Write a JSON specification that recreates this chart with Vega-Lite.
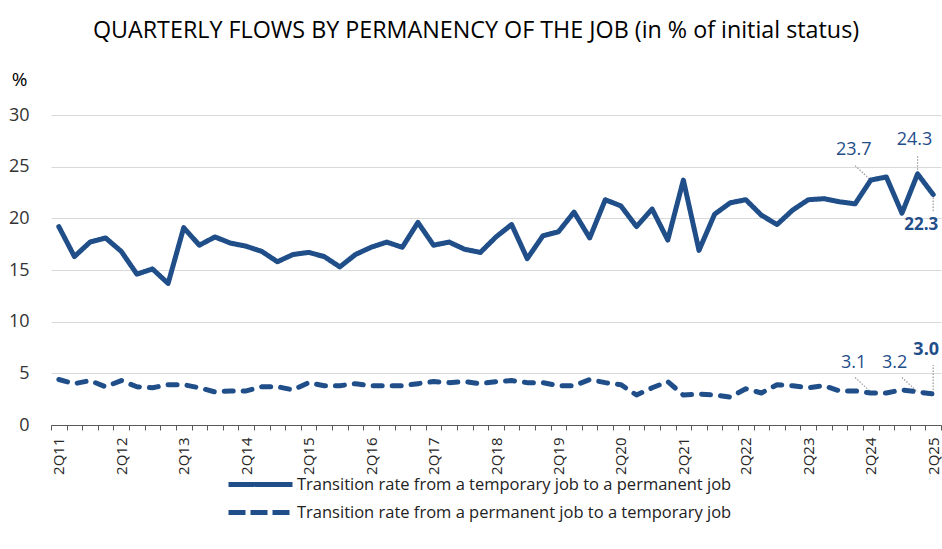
{
  "$schema": "https://vega.github.io/schema/vega-lite/v6.json",
  "width": 890,
  "height": 310,
  "autosize": {"type": "none"},
  "padding": {"left": 51, "top": 115, "right": 1, "bottom": 124},
  "background": "white",
  "config": {"font": "Open Sans", "view": {"stroke": null}},
  "title": {
    "text": "QUARTERLY FLOWS BY PERMANENCY OF THE JOB (in % of initial status)",
    "fontSize": 23.3, "fontWeight": "normal", "color": "#000000",
    "anchor": "middle", "frame": "group", "dx": -20, "offset": 27
  },
  "datasets": {
    "main": [
      {"q":"2Q11","tp":19.2,"pt":4.4},{"q":"3Q11","tp":16.3,"pt":4.0},{"q":"4Q11","tp":17.7,"pt":4.3},
      {"q":"1Q12","tp":18.1,"pt":3.7},{"q":"2Q12","tp":16.8,"pt":4.3},{"q":"3Q12","tp":14.6,"pt":3.7},{"q":"4Q12","tp":15.1,"pt":3.6},
      {"q":"1Q13","tp":13.7,"pt":3.9},{"q":"2Q13","tp":19.1,"pt":3.9},{"q":"3Q13","tp":17.4,"pt":3.6},{"q":"4Q13","tp":18.2,"pt":3.2},
      {"q":"1Q14","tp":17.6,"pt":3.3},{"q":"2Q14","tp":17.3,"pt":3.3},{"q":"3Q14","tp":16.8,"pt":3.7},{"q":"4Q14","tp":15.8,"pt":3.7},
      {"q":"1Q15","tp":16.5,"pt":3.4},{"q":"2Q15","tp":16.7,"pt":4.1},{"q":"3Q15","tp":16.3,"pt":3.8},{"q":"4Q15","tp":15.3,"pt":3.8},
      {"q":"1Q16","tp":16.5,"pt":4.0},{"q":"2Q16","tp":17.2,"pt":3.8},{"q":"3Q16","tp":17.7,"pt":3.8},{"q":"4Q16","tp":17.2,"pt":3.8},
      {"q":"1Q17","tp":19.6,"pt":4.0},{"q":"2Q17","tp":17.4,"pt":4.2},{"q":"3Q17","tp":17.7,"pt":4.1},{"q":"4Q17","tp":17.0,"pt":4.2},
      {"q":"1Q18","tp":16.7,"pt":4.0},{"q":"2Q18","tp":18.2,"pt":4.2},{"q":"3Q18","tp":19.4,"pt":4.3},{"q":"4Q18","tp":16.1,"pt":4.1},
      {"q":"1Q19","tp":18.3,"pt":4.1},{"q":"2Q19","tp":18.7,"pt":3.8},{"q":"3Q19","tp":20.6,"pt":3.8},{"q":"4Q19","tp":18.1,"pt":4.4},
      {"q":"1Q20","tp":21.8,"pt":4.1},{"q":"2Q20","tp":21.2,"pt":3.9},{"q":"3Q20","tp":19.2,"pt":2.9},{"q":"4Q20","tp":20.9,"pt":3.6},
      {"q":"1Q21","tp":17.9,"pt":4.2},{"q":"2Q21","tp":23.7,"pt":2.9},{"q":"3Q21","tp":16.9,"pt":3.0},{"q":"4Q21","tp":20.4,"pt":2.9},
      {"q":"1Q22","tp":21.5,"pt":2.7},{"q":"2Q22","tp":21.8,"pt":3.5},{"q":"3Q22","tp":20.3,"pt":3.1},{"q":"4Q22","tp":19.4,"pt":3.9},
      {"q":"1Q23","tp":20.8,"pt":3.8},{"q":"2Q23","tp":21.8,"pt":3.6},{"q":"3Q23","tp":21.9,"pt":3.8},{"q":"4Q23","tp":21.6,"pt":3.3},
      {"q":"1Q24","tp":21.4,"pt":3.3},{"q":"2Q24","tp":23.7,"pt":3.1},{"q":"3Q24","tp":24.0,"pt":3.1},{"q":"4Q24","tp":20.5,"pt":3.4},
      {"q":"1Q25","tp":24.3,"pt":3.2},{"q":"2Q25","tp":22.3,"pt":3.0}
    ],
    "leaders": [
      {"id":1,"q":"2Q24","v":23.7},{"id":1,"q":"1Q24","v":25.1},
      {"id":2,"q":"1Q25","v":24.4},{"id":2,"q":"1Q25","v":26.0},
      {"id":3,"q":"2Q25","v":22.3},{"id":3,"q":"2Q25","v":20.7},
      {"id":4,"q":"2Q24","v":3.2},{"id":4,"q":"1Q24","v":4.6},
      {"id":5,"q":"1Q25","v":3.2},{"id":5,"q":"4Q24","v":4.6},
      {"id":6,"q":"2Q25","v":3.1},{"id":6,"q":"2Q25","v":5.8}
    ]
  },
  "encoding": {
    "x": {
      "field": "q", "type": "ordinal", "bandPosition": 0.5,
      "scale": {"type": "band", "paddingInner": 0, "paddingOuter": 0,
        "domain": ["2Q11","3Q11","4Q11","1Q12","2Q12","3Q12","4Q12","1Q13","2Q13","3Q13","4Q13","1Q14","2Q14","3Q14","4Q14","1Q15","2Q15","3Q15","4Q15","1Q16","2Q16","3Q16","4Q16","1Q17","2Q17","3Q17","4Q17","1Q18","2Q18","3Q18","4Q18","1Q19","2Q19","3Q19","4Q19","1Q20","2Q20","3Q20","4Q20","1Q21","2Q21","3Q21","4Q21","1Q22","2Q22","3Q22","4Q22","1Q23","2Q23","3Q23","4Q23","1Q24","2Q24","3Q24","4Q24","1Q25","2Q25"]},
      "axis": {
        "title": null, "labelAngle": -90,
        "labelExpr": "substring(datum.label,0,2)=='2Q' ? datum.label : ''",
        "labelOverlap": false, "tickBand": "extent", "tickSize": 5,
        "tickColor": "#595959", "domainColor": "#595959", "labelColor": "#262626",
        "labelFontSize": 15, "labelPadding": 7, "grid": false
      }
    },
    "y": {
      "field": "v", "type": "quantitative",
      "scale": {"domain": [0, 30], "nice": false},
      "axis": {
        "title": "%", "titleAngle": 0, "titleX": -32, "titleY": -30,
        "titleAlign": "center", "titleBaseline": "alphabetic",
        "titleFontSize": 19, "titleFontWeight": "normal", "titleColor": "#000000",
        "values": [0, 5, 10, 15, 20, 25, 30], "ticks": false, "domain": false,
        "labelPadding": 22, "labelFontSize": 18, "labelColor": "#333333",
        "grid": true, "gridColor": "#d9d9d9", "gridWidth": 1
      }
    }
  },
  "layer": [
    {
      "data": {"name": "leaders"},
      "mark": {"type": "line", "color": "#9a9a9a", "strokeWidth": 1.2, "strokeDash": [1.5, 1.5]},
      "encoding": {"detail": {"field": "id"}}
    },
    {
      "data": {"name": "main"},
      "transform": [{"fold": ["tp", "pt"], "as": ["series", "v"]}, {"filter": "datum.series == 'tp'"}],
      "mark": {"type": "line", "color": "#1f4e89", "strokeWidth": 5, "strokeJoin": "round", "strokeCap": "round"},
      "encoding": {
        "strokeDash": {
          "field": "series", "type": "nominal",
          "scale": {"domain": ["tp"], "range": [[1, 0]]},
          "legend": {
            "title": null, "orient": "none", "legendX": 175, "legendY": 335,
            "labelExpr": "'Transition rate from a temporary job to a permanent job'",
            "symbolType": "stroke", "symbolSize": 4096, "symbolStrokeWidth": 5,
            "symbolStrokeColor": "#1f4e89", "labelFontSize": 16.5, "labelColor": "#222222",
            "labelOffset": 2, "labelLimit": 700
          }
        }
      }
    },
    {
      "data": {"name": "main"},
      "transform": [{"fold": ["tp", "pt"], "as": ["series", "v"]}, {"filter": "datum.series == 'pt'"}],
      "mark": {"type": "line", "strokeWidth": 5, "strokeJoin": "round", "strokeCap": "round", "strokeDash": [9, 10]},
      "encoding": {
        "color": {
          "field": "series", "type": "nominal",
          "scale": {"domain": ["pt"], "range": ["#1f4e89"]},
          "legend": {
            "title": null, "orient": "none", "legendX": 175, "legendY": 363,
            "labelExpr": "'Transition rate from a permanent job to a temporary job'",
            "symbolType": "stroke", "symbolSize": 4096, "symbolStrokeWidth": 5,
            "symbolDash": [17, 5], "labelFontSize": 16.5, "labelColor": "#222222",
            "labelOffset": 2, "labelLimit": 700
          }
        }
      }
    },
    {
      "data": {"values": [{"q": "2Q24", "v": 23.7}, {"q": "2Q24", "v": 3.1}]},
      "mark": {"type": "text", "fontSize": 18, "color": "#1f4e89", "dx": -17, "dy": -30},
      "encoding": {"text": {"field": "v", "format": ".1f"}}
    },
    {
      "data": {"values": [{"q": "1Q25", "v": 24.3}]},
      "mark": {"type": "text", "fontSize": 18, "color": "#1f4e89", "dx": -3, "dy": -34},
      "encoding": {"text": {"field": "v", "format": ".1f"}}
    },
    {
      "data": {"values": [{"q": "1Q25", "v": 3.2}]},
      "mark": {"type": "text", "fontSize": 18, "color": "#1f4e89", "dx": -23, "dy": -29},
      "encoding": {"text": {"field": "v", "format": ".1f"}}
    },
    {
      "data": {"values": [{"q": "2Q25", "v": 22.3}]},
      "mark": {"type": "text", "fontSize": 17, "fontWeight": "bold", "color": "#1f4e89", "dx": -12, "dy": 30},
      "encoding": {"text": {"field": "v", "format": ".1f"}}
    },
    {
      "data": {"values": [{"q": "2Q25", "v": 3.0}]},
      "mark": {"type": "text", "fontSize": 18, "fontWeight": "bold", "color": "#1f4e89", "dx": -7, "dy": -44},
      "encoding": {"text": {"field": "v", "format": ".1f"}}
    }
  ]
}
